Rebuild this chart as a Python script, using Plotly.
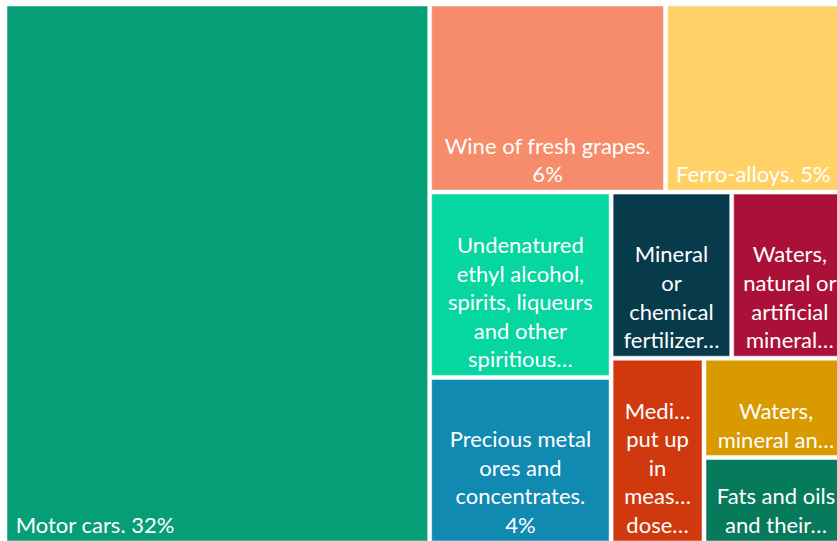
import plotly.graph_objects as go

# Top export products, share of total exports (%)
labels = [
    "Motor cars",
    "Wine of fresh grapes",
    "Ferro-alloys",
    "Undenatured ethyl alcohol, spirits, liqueurs and other spiritious beverages",
    "Precious metal ores and concentrates",
    "Mineral or chemical fertilizers",
    "Waters, natural or artificial mineral",
    "Medicaments put up in measured doses",
    "Waters, mineral and aerated",
    "Fats and oils and their fractions",
]
values = [32.0, 6.2, 4.8, 4.7, 4.2, 2.8, 2.7, 2.4, 2.0, 1.72]
colors = [
    "#069e76", "#f78c6b", "#ffd166", "#06d6a0", "#118ab2",
    "#073b4c", "#ab1038", "#cf390d", "#d99a00", "#077a5c",
]

# wrapped / truncated labels as shown on the tiles
centered_text = [
    "",
    "Wine of fresh grapes.<br>6%",
    "",
    "Undenatured<br>ethyl alcohol,<br>spirits, liqueurs<br>and other<br>spiritious…",
    "Precious metal<br>ores and<br>concentrates.<br>4%",
    "Mineral<br>or<br>chemical<br>fertilizer…",
    "Waters,<br>natural or<br>artificial<br>mineral…",
    "Medi…<br>put up<br>in<br>meas…<br>dose…",
    "Waters,<br>mineral an…",
    "Fats and oils<br>and their…",
]
# nbsp gives these a little more room from the tile edge
left_text = ["\u00a0Motor cars. 32%", "", "\u00a0Ferro-alloys. 5%", "", "", "", "", "", "", ""]

FONT = dict(family="Lato", size=22, color="white")
NO_PAD = dict(t=0, l=0, r=0, b=0)
parents = [""] * len(labels)

fig = go.Figure()
fig.add_trace(go.Treemap(
    labels=labels,
    parents=parents,
    values=values,
    text=centered_text,
    textinfo="text",
    textposition="bottom center",
    textfont=FONT,
    marker=dict(colors=colors, pad=NO_PAD,
                line=dict(width=1, color="rgba(255,255,255,0.5)")),
    tiling=dict(pad=4),
    sort=True,
    hoverinfo="label+value",
))
# second, transparent layer only for the left-aligned single-line labels
fig.add_trace(go.Treemap(
    labels=labels,
    parents=parents,
    values=values,
    text=left_text,
    textinfo="text",
    textposition="bottom left",
    textfont=FONT,
    marker=dict(colors=["rgba(0,0,0,0)"] * len(labels), pad=NO_PAD, line=dict(width=0)),
    tiling=dict(pad=4),
    sort=True,
    hoverinfo="skip",
))

# the chart is wider than the window; its right edge is clipped like the source
fig.update_layout(
    width=846,
    height=541,
    margin=dict(l=7, r=0, t=6, b=0),
    paper_bgcolor="white",
    uniformtext=dict(minsize=22, mode="show"),
    showlegend=False,
)

fig.write_html(
    "out.html",
    config={"displayModeBar": False},
    post_script="document.body.style.margin='0';document.body.style.overflow='hidden';",
)
